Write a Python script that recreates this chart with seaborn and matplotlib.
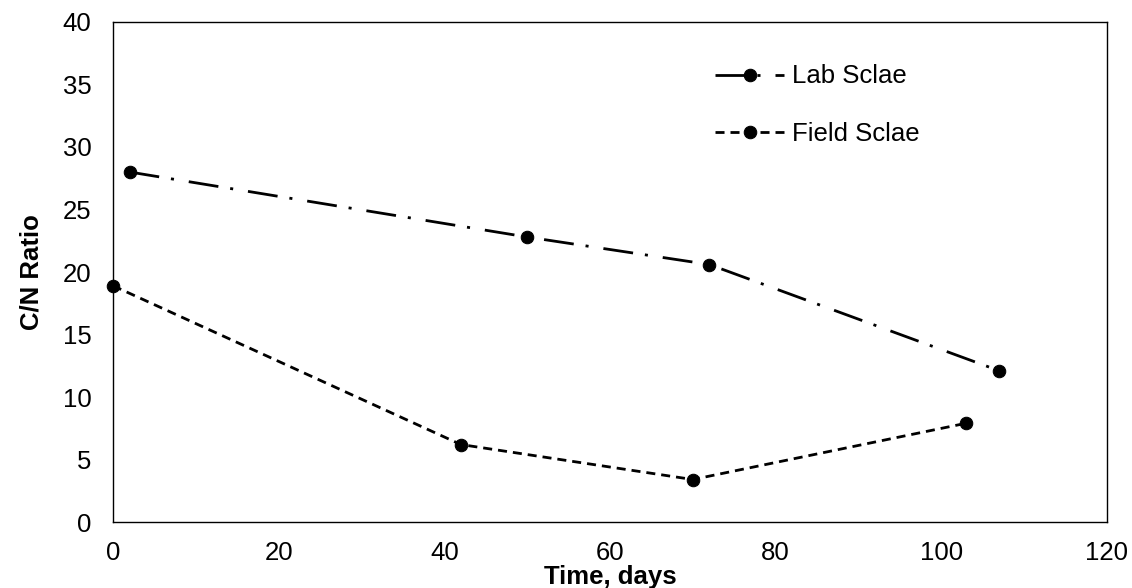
import pandas as pd
import seaborn as sns
import matplotlib.pyplot as plt

# values
lab_days = [2, 50, 72, 107]
lab_cn = [28.0, 22.8, 20.6, 12.1]
field_days = [0, 42, 70, 103]
field_cn = [18.9, 6.2, 3.4, 7.9]

x_ticks = [0, 20, 40, 60, 80, 100, 120]
y_ticks = [0, 5, 10, 15, 20, 25, 30, 35, 40]

lab = pd.DataFrame({'days': lab_days, 'cn': lab_cn})
field = pd.DataFrame({'days': field_days, 'cn': field_cn})

sns.set_theme(style='white')
plt.rcParams['font.family'] = ['Liberation Sans', 'DejaVu Sans']
plt.rcParams['lines.scale_dashes'] = False
plt.rcParams['text.color'] = 'black'
plt.rcParams['axes.labelcolor'] = 'black'

fig = plt.figure(figsize=(11.32, 5.88), dpi=100)
ax = fig.add_axes([0.0998, 0.1122, 0.8780, 0.8504])

sns.lineplot(data=lab, x='days', y='cn', ax=ax, color='black', marker='o',
             markersize=9, markeredgecolor='black', linewidth=2.0,
             linestyle=(0, (21.6, 8.6, 2.2, 10.8)), label='Lab Sclae', clip_on=False)
sns.lineplot(data=field, x='days', y='cn', ax=ax, color='black', marker='o',
             markersize=9, markeredgecolor='black', linewidth=2.0,
             linestyle=(0, (6.5, 4.3)), label='Field Sclae', clip_on=False)

ax.set_xlim(0, 120)
ax.set_ylim(0, 40)
ax.set_xticks(x_ticks)
ax.set_yticks(y_ticks)
ax.tick_params(axis='both', length=0, labelsize=18.5, colors='black')
ax.tick_params(axis='y', pad=15.5)
ax.tick_params(axis='x', pad=14)
for s in ax.spines.values():
    s.set_color('black')
    s.set_linewidth(1.0)
    s.set_visible(True)

ax.set_xlabel('Time, days', fontsize=18.5, fontweight='bold', labelpad=0, color='black')
ax.set_ylabel('C/N Ratio', fontsize=18.5, fontweight='bold', labelpad=14, color='black')

leg = ax.legend(loc='upper left', bbox_to_anchor=(0.6056, 0.915), frameon=False,
                fontsize=18.5, handlelength=2.7, handletextpad=0.3, labelspacing=1.3,
                borderpad=0, borderaxespad=0)
for t in leg.get_texts():
    t.set_color('black')

fig.savefig('out.png', dpi=100)
